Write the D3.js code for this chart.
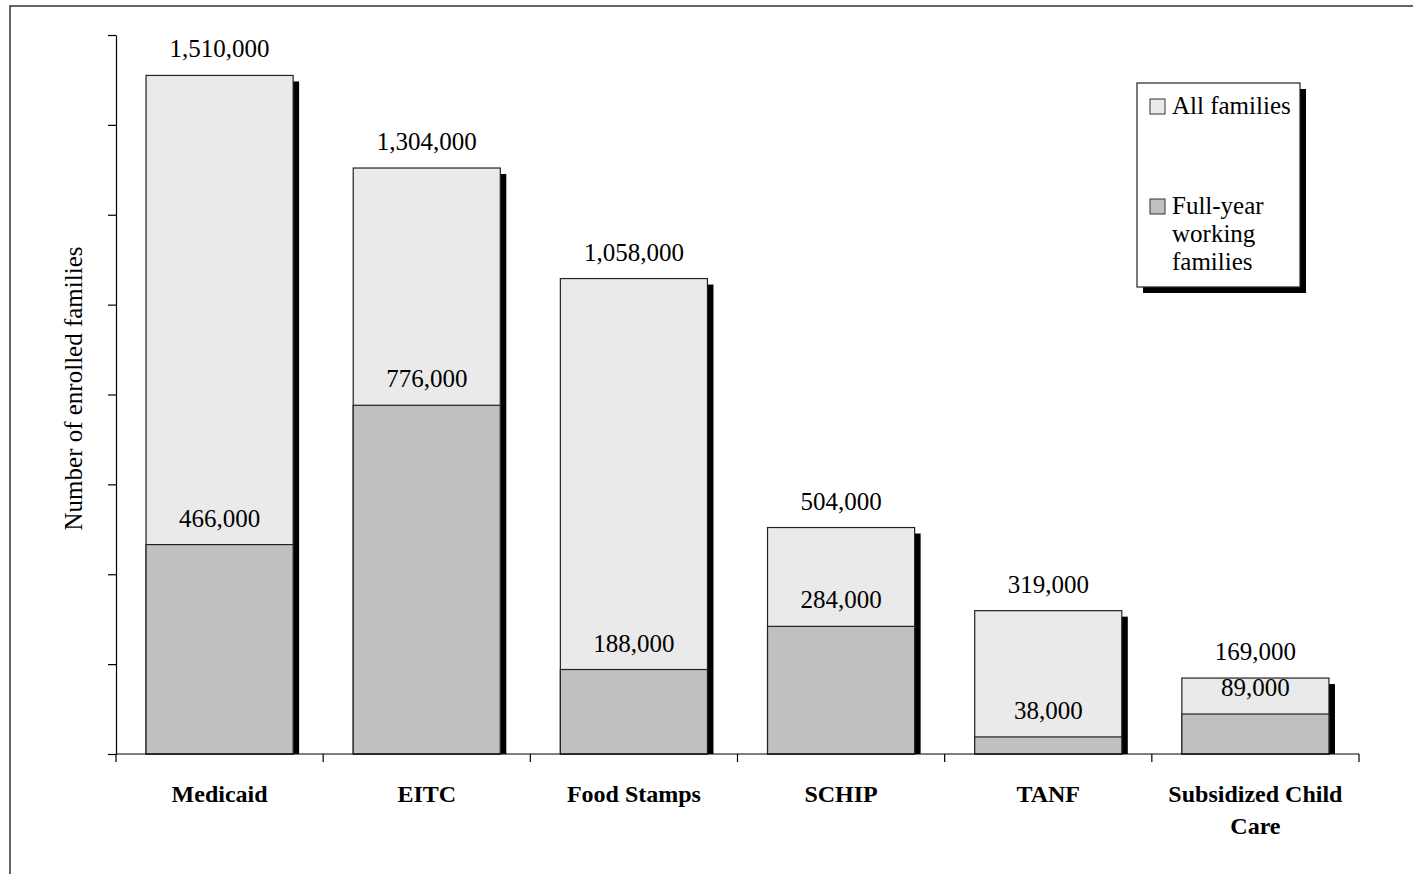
<!DOCTYPE html>
<html>
<head>
<meta charset="utf-8">
<script src="https://cdn.jsdelivr.net/npm/d3@7"></script>
<style>
  body { margin: 0; background: #fff; }
  svg { display: block; font-family: "Liberation Serif", "Times New Roman", serif; }
</style>
</head>
<body>
<svg width="1413" height="874"></svg>
<script>
const programs = ["Medicaid", "EITC", "Food Stamps", "SCHIP", "TANF", "Subsidized Child Care"];
const allFamilies = [1510000, 1304000, 1058000, 504000, 319000, 169000];
const workingFamilies = [466000, 776000, 188000, 284000, 38000, 89000];
const yTicks = [0, 200000, 400000, 600000, 800000, 1000000, 1200000, 1400000, 1600000];
const legendLabels = [["All families"], ["Full-year", "working", "families"]];

const svg = d3.select("svg");
const margin = { top: 35, right: 54, bottom: 120, left: 116 };
const width = 1413 - margin.left - margin.right;
const height = 874 - margin.top - margin.bottom;

const fmt = d3.format(",");
const lightFill = "#eaeaea";
const darkFill = "#c0c0c0";
const fs = 25;

// outer frame
svg.append("rect")
  .attr("x", 10).attr("y", 6)
  .attr("width", 1420).attr("height", 900)
  .attr("fill", "none")
  .attr("stroke", "#333")
  .attr("stroke-width", 1.5);

const g = svg.append("g")
  .attr("transform", `translate(${margin.left},${margin.top})`);

const x = d3.scaleBand()
  .domain(programs)
  .range([0, width])
  .paddingInner(0.29)
  .paddingOuter(0.145);

const band = width / programs.length;

const y = d3.scaleLinear()
  .domain([0, 1600000])
  .range([height, 0]);

// y axis, ticks only
const yAxis = g.append("g")
  .call(d3.axisLeft(y).tickValues(yTicks).tickFormat("").tickSize(8).tickSizeOuter(0));
yAxis.select(".domain").attr("stroke", "#000").attr("stroke-width", 1.2);
yAxis.selectAll(".tick line").attr("stroke", "#000").attr("stroke-width", 1.2);

g.append("text")
  .attr("transform", "rotate(-90)")
  .attr("x", -height / 2 + 6)
  .attr("y", -34)
  .attr("text-anchor", "middle")
  .attr("font-size", fs)
  .text("Number of enrolled families");

const rows = programs.map((p, i) => ({ p, all: allFamilies[i], work: workingFamilies[i] }));

// shadows
g.selectAll("rect.shadow")
  .data(rows)
  .join("rect")
  .attr("class", "shadow")
  .attr("x", d => x(d.p) + 6)
  .attr("y", d => y(d.all) + 6)
  .attr("width", x.bandwidth())
  .attr("height", d => height - y(d.all) - 6)
  .attr("fill", "#000");

g.selectAll("rect.all")
  .data(rows)
  .join("rect")
  .attr("class", "all")
  .attr("x", d => x(d.p))
  .attr("y", d => y(d.all))
  .attr("width", x.bandwidth())
  .attr("height", d => height - y(d.all))
  .attr("fill", lightFill)
  .attr("stroke", "#222")
  .attr("stroke-width", 1.2);

g.selectAll("rect.work")
  .data(rows)
  .join("rect")
  .attr("class", "work")
  .attr("x", d => x(d.p))
  .attr("y", d => y(d.work))
  .attr("width", x.bandwidth())
  .attr("height", d => height - y(d.work))
  .attr("fill", darkFill)
  .attr("stroke", "#222")
  .attr("stroke-width", 1.2);

g.selectAll("text.allLabel")
  .data(rows)
  .join("text")
  .attr("class", "allLabel")
  .attr("x", d => x(d.p) + x.bandwidth() / 2)
  .attr("y", d => y(d.all) - 18)
  .attr("text-anchor", "middle")
  .attr("font-size", fs)
  .text(d => fmt(d.all));

g.selectAll("text.workLabel")
  .data(rows)
  .join("text")
  .attr("class", "workLabel")
  .attr("x", d => x(d.p) + x.bandwidth() / 2)
  .attr("y", d => y(d.work) - 18)
  .attr("text-anchor", "middle")
  .attr("font-size", fs)
  .text(d => fmt(d.work));

// x axis
const xAxis = g.append("g")
  .attr("transform", `translate(0,${height})`);
xAxis.append("line")
  .attr("x1", 0).attr("x2", width)
  .attr("stroke", "#000").attr("stroke-width", 1.2);
xAxis.selectAll("line.tk")
  .data(d3.range(programs.length + 1))
  .join("line")
  .attr("class", "tk")
  .attr("x1", i => i * band).attr("x2", i => i * band)
  .attr("y1", 0).attr("y2", 8)
  .attr("stroke", "#000").attr("stroke-width", 1.2);

const catLines = { "Subsidized Child Care": ["Subsidized Child", "Care"] };
xAxis.selectAll("text.cat")
  .data(programs)
  .join("text")
  .attr("class", "cat")
  .attr("x", p => x(p) + x.bandwidth() / 2)
  .attr("y", 48)
  .attr("text-anchor", "middle")
  .attr("font-size", 24)
  .attr("font-weight", "bold")
  .each(function (p) {
    const lines = catLines[p] || [p];
    d3.select(this).selectAll("tspan")
      .data(lines)
      .join("tspan")
      .attr("x", x(p) + x.bandwidth() / 2)
      .attr("dy", (d, i) => i === 0 ? 0 : 32)
      .text(d => d);
  });

// legend
const lg = svg.append("g").attr("transform", "translate(1137,83)");
lg.append("rect").attr("x", 6).attr("y", 6).attr("width", 163).attr("height", 204).attr("fill", "#000");
lg.append("rect").attr("width", 163).attr("height", 204)
  .attr("fill", "#fff").attr("stroke", "#222").attr("stroke-width", 1.2);

const legendFills = [lightFill, darkFill];
const legendY = [16, 116];
legendLabels.forEach((lines, i) => {
  lg.append("rect")
    .attr("x", 13).attr("y", legendY[i])
    .attr("width", 15).attr("height", 15)
    .attr("fill", legendFills[i])
    .attr("stroke", "#333").attr("stroke-width", 1);
  const t = lg.append("text")
    .attr("x", 35).attr("y", legendY[i] + 15)
    .attr("font-size", fs);
  lines.forEach((l, j) => {
    t.append("tspan").attr("x", 35).attr("dy", j === 0 ? 0 : 28).text(l);
  });
});
</script>
</body>
</html>
